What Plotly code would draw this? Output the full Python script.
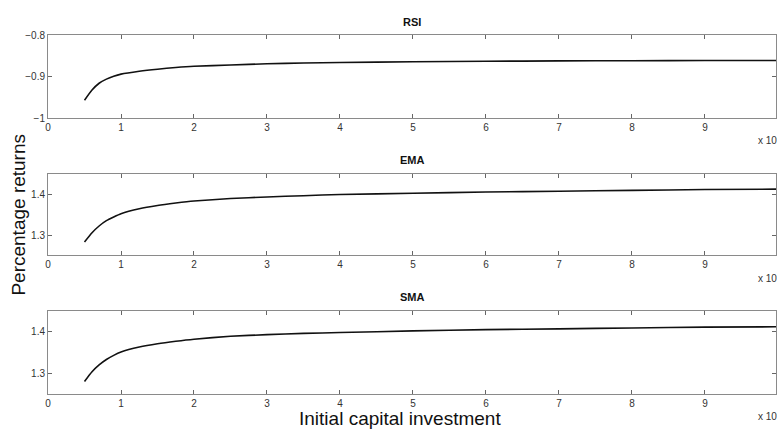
import plotly.graph_objects as go

# Initial capital investment (in units of the axis multiplier)
capital = [0.5, 0.6, 0.7, 0.8, 0.9, 1.0, 1.25, 1.5, 1.75, 2.0, 2.5, 3.0, 3.5, 4.0, 5.0, 6.0, 7.0, 8.0, 9.0, 10.0]

# Percentage returns per strategy
rsi_returns = [-0.957, -0.933, -0.916, -0.906, -0.899, -0.894, -0.887, -0.882, -0.878, -0.875,
               -0.872, -0.869, -0.867, -0.866, -0.864, -0.863, -0.862, -0.8615, -0.861, -0.861]
ema_returns = [1.283, 1.305, 1.322, 1.335, 1.344, 1.352, 1.364, 1.372, 1.378, 1.383,
               1.389, 1.393, 1.396, 1.399, 1.402, 1.405, 1.407, 1.409, 1.411, 1.412]
sma_returns = [1.280, 1.303, 1.320, 1.333, 1.343, 1.351, 1.363, 1.371, 1.377, 1.382,
               1.389, 1.393, 1.396, 1.398, 1.402, 1.405, 1.407, 1.409, 1.411, 1.412]

panel_titles = ["RSI", "EMA", "SMA"]
x_ticks = [0, 1, 2, 3, 4, 5, 6, 7, 8, 9, 10]
rsi_ticks = [-1, -0.9, -0.8]
ma_ticks = [1.3, 1.4]

W, H = 777, 433
LEFT = 48
# vertical pixel extents of each panel (top, bottom)
panels = [(31, 116), (173, 257), (314, 399)]
y_ranges = [[-1, -0.8], [1.25, 1.45], [1.25, 1.45]]
y_tickvals = [rsi_ticks, ma_ticks, ma_ticks]
series = [rsi_returns, ema_returns, sma_returns]

FONT = "Liberation Sans, Arial, sans-serif"
fig = go.Figure()
layout = dict(
    width=W, height=H,
    margin=dict(l=LEFT, r=0, t=0, b=0),
    paper_bgcolor="white", plot_bgcolor="white",
    showlegend=False,
    font=dict(family=FONT, color="#222"),
)

annotations = []
for i, (name, ys) in enumerate(zip(panel_titles, series)):
    n = "" if i == 0 else str(i + 1)
    xa, ya = "x" + n, "y" + n
    fig.add_trace(go.Scatter(
        x=capital, y=ys, mode="lines", xaxis=xa, yaxis=ya,
        line=dict(color="#111", width=1.6, shape="spline", smoothing=0.5),
    ))
    top, bot = panels[i]
    common = dict(
        showline=True, linecolor="#8a8a8a", linewidth=1, mirror="ticks",
        ticks="inside", ticklen=4, tickcolor="#666", tickwidth=1,
        showgrid=False, zeroline=False,
        tickfont=dict(family=FONT, size=10, color="#333"),
    )
    layout["xaxis" + n] = dict(
        common, domain=[0, 1], range=[0, 9.973], anchor=ya,
        tickvals=x_ticks, ticktext=[str(v) for v in x_ticks],
    )
    layout["yaxis" + n] = dict(
        common, domain=[1 - bot / H, 1 - top / H], range=y_ranges[i], anchor=xa,
        tickvals=y_tickvals[i], ticktext=[("%g" % v).replace("-", "\u2212") for v in y_tickvals[i]],
    )
    annotations.append(dict(
        text="<b>%s</b>" % name, xref="paper", yref="paper",
        x=(413 - LEFT) / (W - LEFT), y=1 - (top - 14) / H,
        xanchor="center", yanchor="middle", showarrow=False,
        font=dict(family=FONT, size=11, color="#111"),
    ))
    annotations.append(dict(
        text="x 10<sup>4</sup>", xref="paper", yref="paper",
        x=(757 - LEFT) / (W - LEFT), y=1 - (bot + 23) / H,
        xanchor="left", yanchor="middle", showarrow=False,
        font=dict(family=FONT, size=10, color="#333"),
    ))

annotations.append(dict(
    text="Initial capital investment", xref="paper", yref="paper",
    x=(400 - LEFT) / (W - LEFT), y=1 - 424 / H,
    xanchor="center", yanchor="middle", showarrow=False,
    font=dict(family=FONT, size=19, color="#111"),
))
annotations.append(dict(
    text="Percentage returns", xref="paper", yref="paper",
    x=(18 - LEFT) / (W - LEFT), y=1 - 215 / H, textangle=-90,
    xanchor="center", yanchor="middle", showarrow=False,
    font=dict(family=FONT, size=19, color="#111"),
))
layout["annotations"] = annotations

fig.update_layout(**layout)
fig.write_html("out.html")
